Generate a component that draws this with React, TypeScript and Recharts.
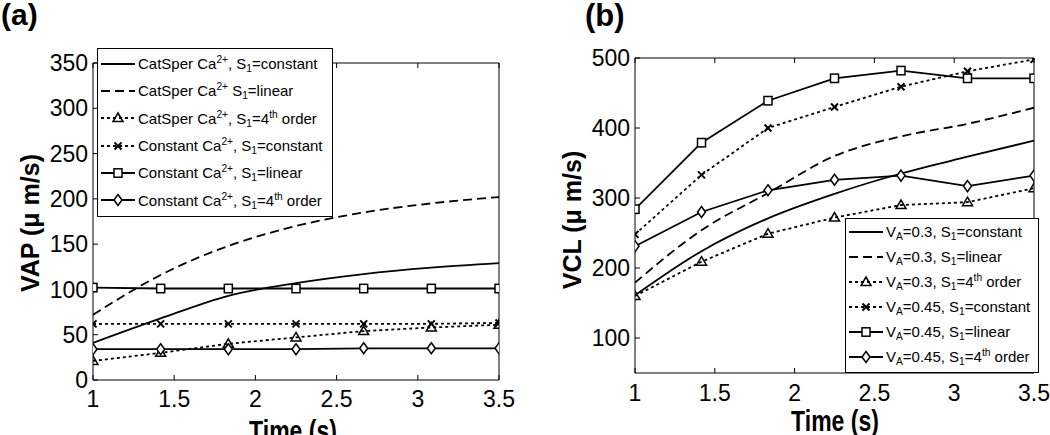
import React from 'react';
import { LineChart, Line, XAxis, YAxis } from 'recharts';

const FONT = '"Liberation Sans", Arial, Helvetica, sans-serif';

// ---------- data ----------
const TIME = [1, 1.4167, 1.8333, 2.25, 2.6667, 3.0833, 3.5];
const X_TICKS = [1, 1.5, 2, 2.5, 3, 3.5];
const VAP_TICKS = [0, 50, 100, 150, 200, 250, 300, 350];
const VCL_TICKS = [100, 200, 300, 400, 500];

// panel (a): VAP
const catsperConst = [41, 68, 93, 107, 117, 124, 129];
const catsperLinear = [72, 116, 148, 170, 185, 195, 202];
const catsper4th = [21, 30, 40, 47, 54, 58, 61];
const constantConst = [62, 62, 62, 62, 62, 62, 63];
const constantLinear = [102, 101, 101, 101, 101, 101, 101];
const constant4th = [34, 34, 34, 34, 35, 35, 35];

// panel (b): VCL
const va03Const = [161, 224, 271, 306, 335, 359, 382];
const va03Linear = [179, 254, 307, 360, 388, 406, 429];
const va03Fourth = [160, 209, 249, 272, 290, 294, 314];
const va045Const = [248, 333, 400, 430, 459, 481, 498];
const va045Linear = [284, 379, 439, 471, 482, 471, 471];
const va045Fourth = [231, 280, 311, 326, 332, 317, 332];

type Kind = 'none' | 'triangle' | 'x' | 'square' | 'diamond';
type Style = 'solid' | 'dashed' | 'dotted';

interface Series {
  key: string;
  values: number[];
  style: Style;
  marker: Kind;
  label: React.ReactNode;
}

const sup = (t: string) => <sup style={{ fontSize: '0.68em', verticalAlign: '0.55em', lineHeight: 0 }}>{t}</sup>;
const sub = (t: string) => <sub style={{ fontSize: '0.68em', verticalAlign: '-0.3em', lineHeight: 0 }}>{t}</sub>;

const SERIES_A: Series[] = [
  { key: 'a1', values: catsperConst, style: 'solid', marker: 'none', label: <>CatSper Ca{sup('2+')}, S{sub('1')}=constant</> },
  { key: 'a2', values: catsperLinear, style: 'dashed', marker: 'none', label: <>CatSper Ca{sup('2+')} S{sub('1')}=linear</> },
  { key: 'a3', values: catsper4th, style: 'dotted', marker: 'triangle', label: <>CatSper Ca{sup('2+')}, S{sub('1')}=4{sup('th')} order</> },
  { key: 'a4', values: constantConst, style: 'dotted', marker: 'x', label: <>Constant Ca{sup('2+')}, S{sub('1')}=constant</> },
  { key: 'a5', values: constantLinear, style: 'solid', marker: 'square', label: <>Constant Ca{sup('2+')}, S{sub('1')}=linear</> },
  { key: 'a6', values: constant4th, style: 'solid', marker: 'diamond', label: <>Constant Ca{sup('2+')}, S{sub('1')}=4{sup('th')} order</> },
];

const SERIES_B: Series[] = [
  { key: 'b1', values: va03Const, style: 'solid', marker: 'none', label: <>V{sub('A')}=0.3, S{sub('1')}=constant</> },
  { key: 'b2', values: va03Linear, style: 'dashed', marker: 'none', label: <>V{sub('A')}=0.3, S{sub('1')}=linear</> },
  { key: 'b3', values: va03Fourth, style: 'dotted', marker: 'triangle', label: <>V{sub('A')}=0.3, S{sub('1')}=4{sup('th')} order</> },
  { key: 'b4', values: va045Const, style: 'dotted', marker: 'x', label: <>V{sub('A')}=0.45, S{sub('1')}=constant</> },
  { key: 'b5', values: va045Linear, style: 'solid', marker: 'square', label: <>V{sub('A')}=0.45, S{sub('1')}=linear</> },
  { key: 'b6', values: va045Fourth, style: 'solid', marker: 'diamond', label: <>V{sub('A')}=0.45, S{sub('1')}=4{sup('th')} order</> },
];

const buildRows = (series: Series[]) =>
  TIME.map((t, i) => {
    const row: Record<string, number> = { t };
    series.forEach((s) => (row[s.key] = s.values[i]));
    return row;
  });

const DASH: Record<Style, string | undefined> = { solid: undefined, dashed: '9 5', dotted: '3 3' };
const LINE_W = 1.8;

function Marker({ kind, cx, cy }: { kind: Kind; cx: number; cy: number }) {
  const common = { stroke: '#000', strokeWidth: 1.5, fill: 'none' };
  if (kind === 'square') return <rect x={cx - 4} y={cy - 4.2} width={8} height={8.4} {...common} fill="#fff" />;
  if (kind === 'diamond')
    return <polygon points={`${cx},${cy - 5.5} ${cx + 4},${cy} ${cx},${cy + 5.5} ${cx - 4},${cy}`} {...common} fill="#fff" />;
  if (kind === 'triangle')
    return <polygon points={`${cx},${cy - 5} ${cx + 5},${cy + 3.5} ${cx - 5},${cy + 3.5}`} {...common} />;
  if (kind === 'x')
    return (
      <g stroke="#000" strokeWidth={2}>
        <line x1={cx - 3.5} y1={cy - 3.5} x2={cx + 3.5} y2={cy + 3.5} />
        <line x1={cx - 3.5} y1={cy + 3.5} x2={cx + 3.5} y2={cy - 3.5} />
      </g>
    );
  return null;
}

interface Geo {
  left: number;
  width: number;
  marginTop: number;
  marginRight: number;
  yAxisWidth: number;
  xAxisHeight: number;
  xTickMargin: number;
}

function Panel({ series, geo, domain, yTicks }: { series: Series[]; geo: Geo; domain: [number, number]; yTicks: number[] }) {
  const data = buildRows(series);
  const tickStyle = { fontSize: 23, fill: '#000', fontFamily: FONT };
  const empty = () => <g />;
  return (
    <div style={{ position: 'absolute', left: geo.left, top: 0 }}>
      <LineChart
        width={geo.width}
        height={435}
        data={data}
        margin={{ top: geo.marginTop, right: geo.marginRight, left: 0, bottom: 0 }}
      >
        <XAxis
          xAxisId="b"
          dataKey="t"
          type="number"
          domain={[1, 3.5]}
          ticks={X_TICKS}
          interval={0}
          height={geo.xAxisHeight}
          tickSize={-5}
          tickMargin={geo.xTickMargin}
          tick={tickStyle}
          axisLine={{ stroke: '#000' }}
          tickLine={{ stroke: '#000' }}
          allowDataOverflow
        />
        <XAxis
          xAxisId="t"
          orientation="top"
          dataKey="t"
          type="number"
          domain={[1, 3.5]}
          ticks={X_TICKS}
          interval={0}
          height={1}
          tickSize={-5}
          tick={empty}
          axisLine={{ stroke: '#000' }}
          tickLine={{ stroke: '#000' }}
        />
        <YAxis
          yAxisId="l"
          type="number"
          domain={domain}
          ticks={yTicks}
          interval={0}
          width={geo.yAxisWidth}
          tickSize={-5}
          tickMargin={10}
          tick={tickStyle}
          axisLine={{ stroke: '#000' }}
          tickLine={{ stroke: '#000' }}
          allowDataOverflow
        />
        <YAxis
          yAxisId="r"
          orientation="right"
          type="number"
          domain={domain}
          ticks={yTicks}
          interval={0}
          width={1}
          tickSize={-5}
          tick={empty}
          axisLine={{ stroke: '#000' }}
          tickLine={{ stroke: '#000' }}
        />
        {series.map((s) => (
          <Line
            key={s.key}
            xAxisId="b"
            yAxisId="l"
            dataKey={s.key}
            type={s.marker === 'none' ? 'monotone' : 'linear'}
            stroke="#000"
            strokeWidth={LINE_W}
            strokeDasharray={DASH[s.style]}
            isAnimationActive={false}
            dot={
              s.marker === 'none'
                ? false
                : (p: any) => <Marker key={`${s.key}-${p.index}`} kind={s.marker} cx={p.cx} cy={p.cy} />
            }
            activeDot={false}
          />
        ))}
      </LineChart>
    </div>
  );
}

function LegendBox({
  series,
  left,
  top,
  width,
  rowH,
  padTop,
  padBottom,
}: {
  series: Series[];
  left: number;
  top: number;
  width: number;
  rowH: number;
  padTop: number;
  padBottom: number;
}) {
  return (
    <div
      style={{
        position: 'absolute',
        left,
        top,
        width,
        boxSizing: 'border-box',
        border: '1px solid #000',
        background: '#fff',
        paddingTop: padTop,
        paddingBottom: padBottom,
        fontFamily: FONT,
        fontSize: 15,
        color: '#000',
      }}
    >
      {series.map((s) => (
        <div key={s.key} style={{ height: rowH, display: 'flex', alignItems: 'center', whiteSpace: 'nowrap' }}>
          <svg width={36} height={14} style={{ marginLeft: 2, marginRight: 2, flex: 'none' }}>
            <line x1={1} y1={7} x2={35} y2={7} stroke="#000" strokeWidth={LINE_W} strokeDasharray={DASH[s.style]} />
            <Marker kind={s.marker} cx={18} cy={7} />
          </svg>
          <span>{s.label}</span>
        </div>
      ))}
    </div>
  );
}

const textBase: React.CSSProperties = { position: 'absolute', fontFamily: FONT, fontWeight: 'bold', color: '#000', whiteSpace: 'nowrap' };

export default function App() {
  return (
    <div style={{ position: 'absolute', left: 0, top: 0, width: 1050, height: 435, background: '#fff', overflow: 'hidden' }}>
      <Panel
        series={SERIES_A}
        domain={[0, 350]}
        yTicks={VAP_TICKS}
        geo={{ left: 0, width: 520, marginTop: 62, marginRight: 20, yAxisWidth: 93, xAxisHeight: 55, xTickMargin: 16 }}
      />
      <Panel
        series={SERIES_B}
        domain={[50, 500]}
        yTicks={VCL_TICKS}
        geo={{ left: 530, width: 520, marginTop: 57, marginRight: 15, yAxisWidth: 105, xAxisHeight: 62, xTickMargin: 17 }}
      />
      <LegendBox series={SERIES_A} left={97} top={48} width={236} rowH={27.3} padTop={1} padBottom={2} />
      <LegendBox series={SERIES_B} left={845} top={218} width={194} rowH={25} padTop={0} padBottom={3} />

      <div style={{ ...textBase, left: 1, top: 0, fontSize: 30, lineHeight: '30px' }}>(a)</div>
      <div style={{ ...textBase, left: 585, top: 0, fontSize: 31, lineHeight: '31px' }}>(b)</div>

      <div style={{ ...textBase, left: 30, top: 223, fontSize: 25, transform: 'translate(-50%, -50%) rotate(-90deg)' }}>
        VAP (μ m/s)
      </div>
      <div style={{ ...textBase, left: 572, top: 220, fontSize: 25, transform: 'translate(-50%, -50%) rotate(-90deg)' }}>
        VCL (μ m/s)
      </div>

      <div
        style={{
          ...textBase,
          left: 293,
          top: 416,
          fontSize: 23,
          lineHeight: '23px',
          transform: 'translateX(-50%) scaleY(1.3)',
          transformOrigin: 'top center',
        }}
      >
        Time (s)
      </div>
      <div
        style={{
          ...textBase,
          left: 835,
          top: 406,
          fontSize: 23,
          lineHeight: '23px',
          transform: 'translateX(-50%) scaleY(1.3)',
          transformOrigin: 'top center',
        }}
      >
        Time (s)
      </div>
    </div>
  );
}
